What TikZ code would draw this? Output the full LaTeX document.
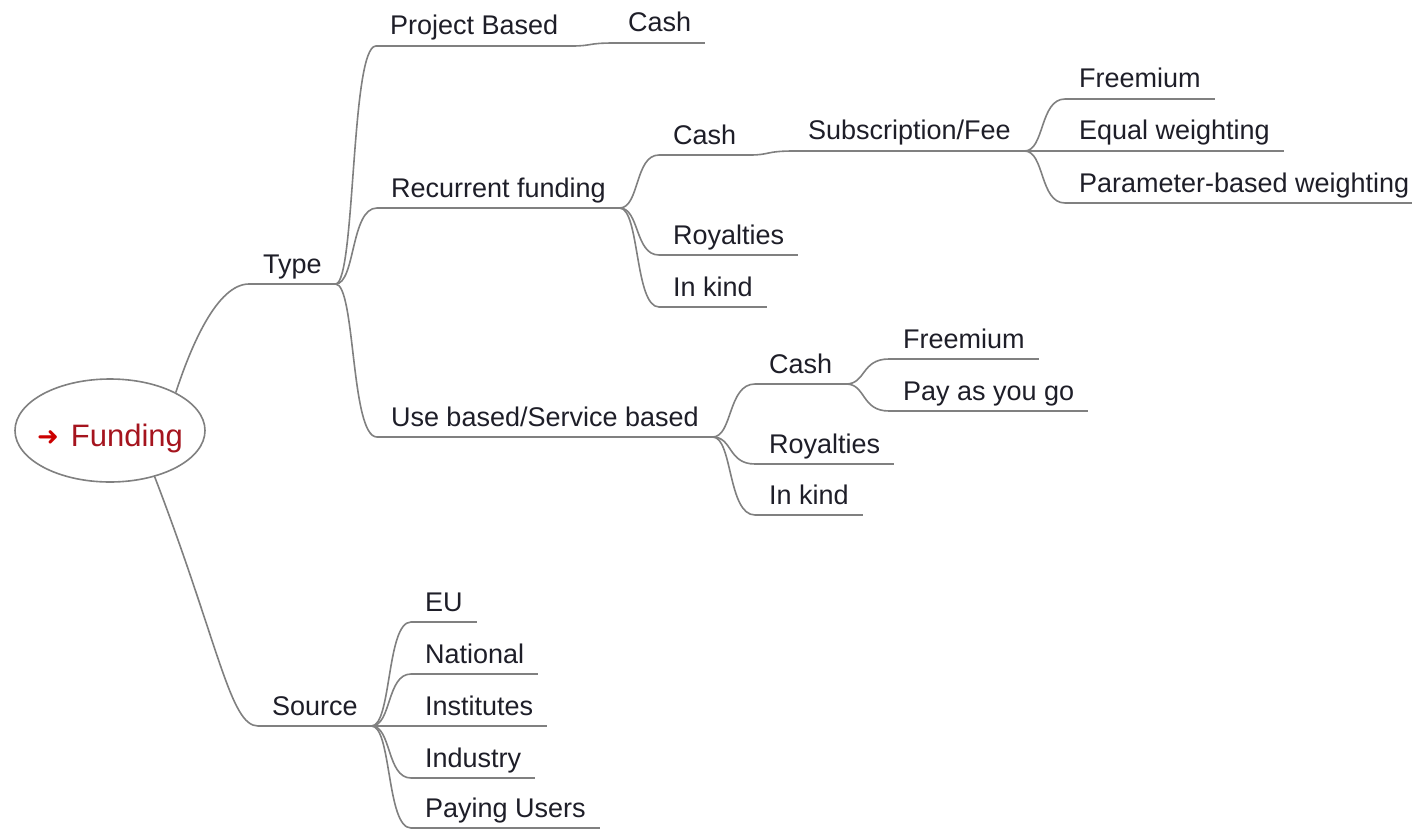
\documentclass[tikz,border=0pt]{standalone}
\usepackage{fontspec}
\setmainfont{Liberation Sans}
\newfontfamily\arrowfont{DejaVu Sans}
\usetikzlibrary{calc,shapes.geometric}
\definecolor{ln}{RGB}{128,128,128}
\definecolor{txt}{RGB}{30,30,40}
\definecolor{fundred}{RGB}{165,20,30}
\definecolor{arrred}{RGB}{204,0,0}
\begin{document}
\begin{tikzpicture}[x=0.5pt,y=-0.5pt,
  lnk/.style={draw=ln,line width=0.8pt},
  tnode/.style={anchor=base west,inner xsep=7pt,inner ysep=1.5pt,text depth=4pt,text height=10pt,outer sep=0pt,
    font=\fontsize{13.5}{16}\selectfont,text=txt},
  conn/.style={to path={.. controls ($(\tikztostart)+(10pt,0)$) and ($(\tikztostart |- \tikztotarget)+(7.5pt,0)$) .. (\tikztotarget)}}]
\fill[white] (0,0) rectangle (1412,829);
\useasboundingbox (0,0) rectangle (1412,829);

\node[ellipse,draw=ln,line width=0.8pt,fill=white,minimum width=95pt,minimum height=51.5pt,inner sep=0pt,
  text height=0pt,text depth=0pt,font=\fontsize{15.5}{18}\selectfont,text=fundred] (fund) at (110,430.5)
  {\raisebox{-8pt}[0pt][0pt]{\makebox[0pt]{{\arrowfont\fontsize{13}{13}\selectfont\color{arrred}\raisebox{0.5pt}{➜}}\hspace{6pt}Funding}}};

\node[tnode] (type) at (249,273) {Type};
\node[tnode] (pb) at (376,35) {Project Based};
\node[tnode] (c1) at (614,32) {Cash};
\node[tnode] (rf) at (377,197) {Recurrent funding};
\node[tnode] (c2) at (659,144) {Cash};
\node[tnode] (sf) at (794,140) {Subscription/Fee};
\node[tnode] (fr1) at (1065,88) {Freemium};
\node[tnode] (ew) at (1065,140) {Equal weighting};
\node[tnode] (pw) at (1065,192) {Parameter-based weighting};
\node[tnode] (ro1) at (659,244) {Royalties};
\node[tnode] (ik1) at (659,296) {In kind};
\node[tnode] (ub) at (377,426) {Use based/Service based};
\node[tnode] (c3) at (755,373) {Cash};
\node[tnode] (fr2) at (889,348) {Freemium};
\node[tnode] (pg) at (889,400) {Pay as you go};
\node[tnode] (ro2) at (755,453) {Royalties};
\node[tnode] (ik2) at (755,504) {In kind};
\node[tnode] (src) at (258,715) {Source};
\node[tnode] (eu) at (411,611) {EU};
\node[tnode] (nat) at (411,663) {National};
\node[tnode] (inst) at (411,715) {Institutes};
\node[tnode] (ind) at (411,767) {Industry};
\node[tnode] (pu) at (411,817) {Paying Users};

\foreach \n in {type,pb,c1,rf,c2,sf,fr1,ew,pw,ro1,ik1,ub,c3,fr2,pg,ro2,ik2,src,eu,nat,inst,ind,pu}
  \draw[lnk] (\n.south west) -- (\n.south east);

\draw[lnk] (fund.30) to[out=72,in=180,out distance=24pt,in distance=16pt] (type.south west);
\draw[lnk] (fund.-46) to[out=-69,in=180,out distance=90pt,in distance=14pt] (src.south west);

\draw[lnk] (type.south east) to[conn] (pb.south west);
\draw[lnk] (type.south east) to[conn] (rf.south west);
\draw[lnk] (type.south east) to[conn] (ub.south west);
\draw[lnk] (pb.south east) to[conn] (c1.south west);
\draw[lnk] (rf.south east) to[conn] (c2.south west);
\draw[lnk] (rf.south east) to[conn] (ro1.south west);
\draw[lnk] (rf.south east) to[conn] (ik1.south west);
\draw[lnk] (c2.south east) to[conn] (sf.south west);
\draw[lnk] (sf.south east) to[conn] (fr1.south west);
\draw[lnk] (sf.south east) to[conn] (ew.south west);
\draw[lnk] (sf.south east) to[conn] (pw.south west);
\draw[lnk] (ub.south east) to[conn] (c3.south west);
\draw[lnk] (ub.south east) to[conn] (ro2.south west);
\draw[lnk] (ub.south east) to[conn] (ik2.south west);
\draw[lnk] (c3.south east) to[conn] (fr2.south west);
\draw[lnk] (c3.south east) to[conn] (pg.south west);
\draw[lnk] (src.south east) to[conn] (eu.south west);
\draw[lnk] (src.south east) to[conn] (nat.south west);
\draw[lnk] (src.south east) to[conn] (inst.south west);
\draw[lnk] (src.south east) to[conn] (ind.south west);
\draw[lnk] (src.south east) to[conn] (pu.south west);
\end{tikzpicture}
\end{document}
